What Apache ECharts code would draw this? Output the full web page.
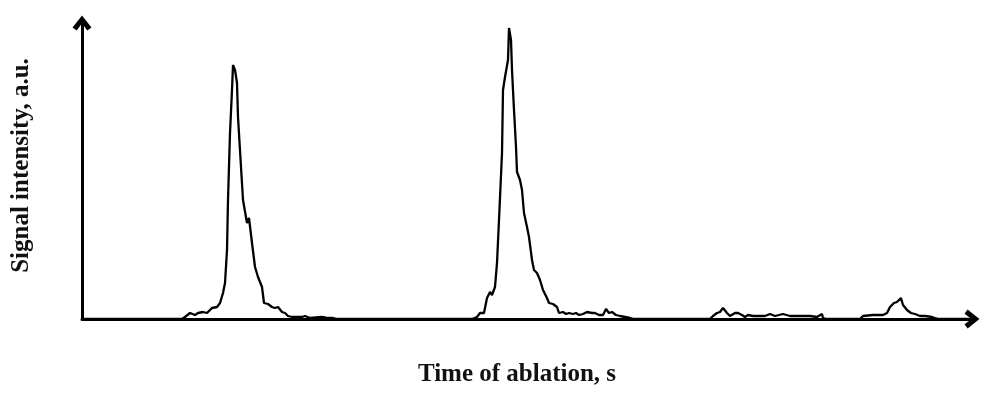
<!DOCTYPE html>
<html>
<head>
<meta charset="utf-8">
<script src="https://cdn.jsdelivr.net/npm/echarts@6/dist/echarts.min.js"></script>
<style>
  html, body { margin: 0; padding: 0; background: #fff; }
  #chart { width: 996px; height: 399px; }
</style>
</head>
<body>
<div id="chart"></div>
<script>
// time of ablation (arbitrary units)
var timeData = [
  0, 100,
  103, 108, 113, 116, 121, 125, 130, 135, 138, 141, 143, 145, 146, 148, 150, 151, 153, 155, 156,
  159, 161, 165, 167, 170, 173, 176, 180, 182, 186, 190, 193, 196, 200, 203, 206, 210, 215, 220,
  223, 228, 240, 245, 251, 255,
  390, 395, 398, 402, 405, 408, 410, 413, 415, 417, 420, 421, 423, 425, 426, 427, 429, 430, 432,
  434, 435, 438, 440, 442, 445, 447, 450, 452, 455, 458, 461, 465, 467, 471, 475, 477, 481, 484,
  487, 491, 494, 497, 501, 505, 510, 513, 517, 521, 524, 527, 530, 534, 538, 543, 548, 552,
  628, 631, 635, 638, 641, 645, 648, 653, 656, 660, 663, 666, 671, 676, 683, 688, 693, 701, 708,
  715, 721, 728, 735, 740, 741, 745,
  778, 781, 791, 801, 805, 808, 812, 815, 819, 821, 825, 829, 833, 838, 843, 850, 853, 857, 893
];
// signal intensity (a.u.)
var signalData = [
  0, 0,
  2, 6, 4, 6, 7, 6, 11, 12, 16, 26, 36, 69, 119, 186, 229, 254, 249, 236, 202,
  152, 119, 96, 101, 76, 52, 42, 32, 16, 15, 12, 11, 12, 7, 6, 3, 2, 2, 2,
  3, 1, 2, 1, 1, 0,
  0, 2, 6, 6, 21, 27, 24, 32, 56, 99, 166, 229, 242, 241, 259, 291, 279, 249, 209,
  172, 147, 139, 129, 106, 92, 82, 59, 49, 46, 39, 29, 21, 16, 15, 12, 6, 7, 5,
  6, 5, 6, 4, 5, 7, 6, 6, 4, 4, 10, 6, 7, 4, 3, 2, 1, 0,
  0, 3, 6, 7, 11, 6, 3, 6, 6, 4, 2, 4, 3, 3, 3, 5, 3, 5, 3,
  3, 3, 3, 2, 5, 1, 0,
  0, 3, 4, 4, 6, 12, 16, 17, 21, 14, 9, 6, 5, 3, 3, 2, 1, 0, 0
];
var xName = 'Time of ablation, s';
var yName = 'Signal intensity, a.u.';

var points = timeData.map(function (t, i) { return [t, signalData[i]]; });

// open chevron arrow head, tip pointing up (rotated along the axis by echarts)
var chevron = 'path://M0,10 L8,0 L16,10 L12.4,12.6 L8,6.6 L3.6,12.6 Z';

var nameStyle = {
  fontFamily: 'Liberation Serif',
  fontWeight: 'bold',
  fontSize: 25,
  color: '#111'
};

var chart = echarts.init(document.getElementById('chart'));
chart.setOption({
  animation: false,
  backgroundColor: '#fff',
  grid: { left: 82, right: 21, top: 20, bottom: 80 },
  xAxis: {
    type: 'value',
    min: 0,
    max: 893,
    name: xName,
    nameLocation: 'middle',
    nameGap: 43,
    nameTextStyle: Object.assign({ padding: [0, 23, 0, 0] }, nameStyle),
    axisLine: {
      onZero: false,
      lineStyle: { color: '#000', width: 3 },
      symbol: ['none', chevron],
      symbolSize: [19, 16],
      symbolOffset: [0, -3]
    },
    axisTick: { show: false },
    axisLabel: { show: false },
    splitLine: { show: false }
  },
  yAxis: {
    type: 'value',
    min: 0,
    max: 299,
    name: yName,
    nameLocation: 'middle',
    nameGap: 48,
    nameTextStyle: Object.assign({ padding: [0, 0, 0, 8] }, nameStyle),
    axisLine: {
      show: true,
      lineStyle: { color: '#000', width: 3 },
      symbol: ['none', chevron],
      symbolSize: [19, 16],
      symbolOffset: [0, -3]
    },
    axisTick: { show: false },
    axisLabel: { show: false },
    splitLine: { show: false }
  },
  series: [{
    type: 'line',
    data: points,
    showSymbol: false,
    symbol: 'none',
    smooth: false,
    lineStyle: { color: '#000', width: 2.3 },
    z: 1
  }]
});
</script>
</body>
</html>
